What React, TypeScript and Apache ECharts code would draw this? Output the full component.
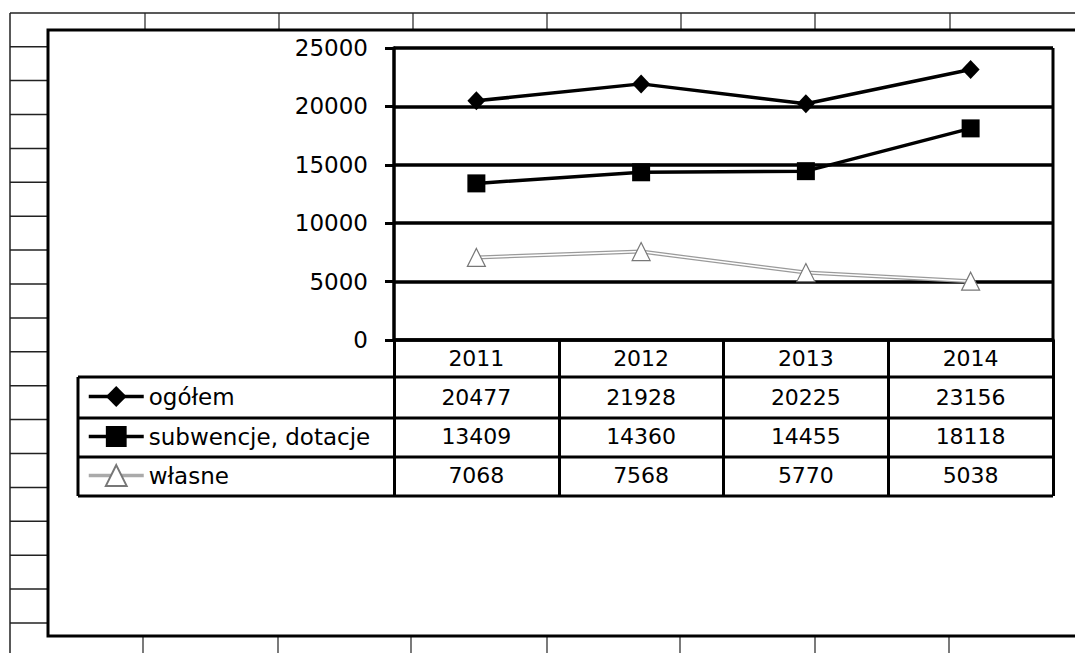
import React, { useEffect, useRef } from "react";
import * as echarts from "echarts";

const categories = ["2011", "2012", "2013", "2014"];
const ogolem = [20477, 21928, 20225, 23156];
const subwencje = [13409, 14360, 14455, 18118];
const wlasne = [7068, 7568, 5770, 5038];
const seriesNames = ["ogółem", "subwencje, dotacje", "własne"];
const yMin = 0;
const yMax = 25000;
const yInterval = 5000;

const FONT = "DejaVu Sans";

export default function App() {
  const ref = useRef<HTMLDivElement>(null);

  useEffect(() => {
    if (!ref.current) return;
    const chart = echarts.init(ref.current, null, { renderer: "svg" });

    const gridLeft = 394;
    const gridTop = 48;
    const gridW = 659;
    const gridH = 292;
    const axisY = gridTop + gridH;
    const rowH = 39;
    const legendLeft = 78;
    const rows = [ogolem, subwencje, wlasne];
    const legendItemH = 26;
    const legendColors = ["#000", "#000", "#aaa"];

    const graphics: any[] = [];
    const dark = "#222";
    // spreadsheet background lines
    graphics.push({ type: "line", shape: { x1: 10, y1: 13, x2: 10, y2: 653 }, style: { stroke: dark, lineWidth: 1.5 } });
    graphics.push({ type: "line", shape: { x1: 10, y1: 13, x2: 1075, y2: 13 }, style: { stroke: dark, lineWidth: 1.5 } });
    for (let k = 0; k < 18; k++) {
      const y = 46.7 + 33.9 * k;
      graphics.push({ type: "line", shape: { x1: 10, y1: y, x2: 48, y2: y }, style: { stroke: dark, lineWidth: 1.5 } });
    }
    [145, 279, 413, 547, 681, 815, 950].forEach((x) =>
      graphics.push({ type: "line", shape: { x1: x, y1: 13, x2: x, y2: 30 }, style: { stroke: dark, lineWidth: 1.2 } })
    );
    [143, 278, 411, 547, 680, 815, 949].forEach((x) =>
      graphics.push({ type: "line", shape: { x1: x, y1: 636, x2: x, y2: 653 }, style: { stroke: dark, lineWidth: 1.2 } })
    );
    // chart frame
    graphics.push({
      type: "rect",
      shape: { x: 48, y: 30, width: 1100, height: 606 },
      style: { stroke: "#000", lineWidth: 3, fill: "none" },
    });
    // plot right border
    graphics.push({
      type: "line",
      shape: { x1: gridLeft + gridW, y1: gridTop, x2: gridLeft + gridW, y2: axisY },
      style: { stroke: "#000", lineWidth: 3 },
    });
    // table horizontal lines
    for (let k = 1; k <= 4; k++) {
      const y = axisY + rowH * k - (k === 1 ? 2 : 0);
      graphics.push({
        type: "line",
        shape: { x1: legendLeft, y1: y, x2: gridLeft + gridW, y2: y },
        style: { stroke: "#000", lineWidth: 3 },
      });
    }
    graphics.push({
      type: "line",
      shape: { x1: legendLeft, y1: axisY + rowH - 2, x2: legendLeft, y2: axisY + rowH * 4 },
      style: { stroke: "#000", lineWidth: 3 },
    });

    const xAxes: any[] = [
      {
        type: "category",
        data: categories,
        boundaryGap: true,
        position: "bottom",
        axisLine: { show: true, lineStyle: { color: "#000", width: 3.5 } },
        axisTick: { show: true, alignWithLabel: false, inside: false, length: rowH * 4, lineStyle: { color: "#000", width: 3 } },
        axisLabel: { interval: 0, color: "#000", fontFamily: FONT, fontSize: 22, margin: rowH / 2 - 1, verticalAlign: "middle" },
        splitLine: { show: false },
      },
    ];
    rows.forEach((vals, k) => {
      xAxes.push({
        type: "category",
        data: categories,
        boundaryGap: true,
        position: "bottom",
        offset: rowH * (k + 1),
        axisLine: { show: false },
        axisTick: { show: false },
        splitLine: { show: false },
        axisLabel: {
          interval: 0,
          color: "#000",
          fontFamily: FONT,
          fontSize: 22,
          margin: rowH / 2 - 1,
          verticalAlign: "middle",
          formatter: (_v: string, i: number) => String(vals[i]),
        },
      });
    });

    const legends = seriesNames.map((name, k) => {
      const center = axisY + rowH * (k + 1) + rowH / 2 - 1 - (k === 0 ? 1 : 0);
      return {
        orient: "vertical",
        left: 87,
        top: center - legendItemH / 2,
        padding: 0,
        itemWidth: 55,
        itemHeight: legendItemH,
        selectedMode: false,
        textStyle: { color: "#000", fontFamily: FONT, fontSize: 23, lineHeight: legendItemH },
        data: [{ name, lineStyle: { width: 3.5, color: legendColors[k] } }],
      };
    });

    chart.setOption({
      animation: false,
      backgroundColor: "#fff",
      grid: {
        left: gridLeft,
        top: gridTop,
        width: gridW,
        height: gridH,
        show: false,
      },
      legend: legends,
      xAxis: xAxes,
      yAxis: {
        type: "value",
        min: yMin,
        max: yMax,
        interval: yInterval,
        axisLine: { show: true, lineStyle: { color: "#000", width: 3.5 } },
        axisTick: { show: true, length: 9, lineStyle: { color: "#000", width: 3 } },
        axisLabel: {
          color: "#000",
          fontFamily: FONT,
          fontSize: 23,
          margin: 26,
          formatter: (v: number) => String(v),
        },
        splitLine: { show: true, lineStyle: { color: "#000", width: 3.5 } },
      },
      series: [
        {
          name: seriesNames[0],
          type: "line",
          data: ogolem,
          symbol: "diamond",
          symbolSize: [18, 19],
          lineStyle: { color: "#000", width: 3.5 },
          itemStyle: { color: "#000" },
          z: 3,
        },
        {
          name: seriesNames[1],
          type: "line",
          data: subwencje,
          symbol: "rect",
          symbolSize: 18,
          lineStyle: { color: "#000", width: 3.5 },
          itemStyle: { color: "#000" },
          z: 3,
        },
        {
          name: seriesNames[2],
          type: "line",
          data: wlasne,
          symbol: "triangle",
          symbolSize: 18,
          lineStyle: { color: "#9a9a9a", width: 4 },
          itemStyle: { color: "#fff", borderColor: "#777", borderWidth: 1.2 },
          z: 3,
        },
        {
          name: "własne-inner",
          type: "line",
          data: wlasne,
          symbol: "none",
          silent: true,
          lineStyle: { color: "#fff", width: 1.5 },
          z: 3,
        },
      ],
      graphic: graphics,
    });

    return () => chart.dispose();
  }, []);

  return (
    <div
      ref={ref}
      style={{ position: "absolute", left: 0, top: 0, width: 1075, height: 653 }}
    />
  );
}
